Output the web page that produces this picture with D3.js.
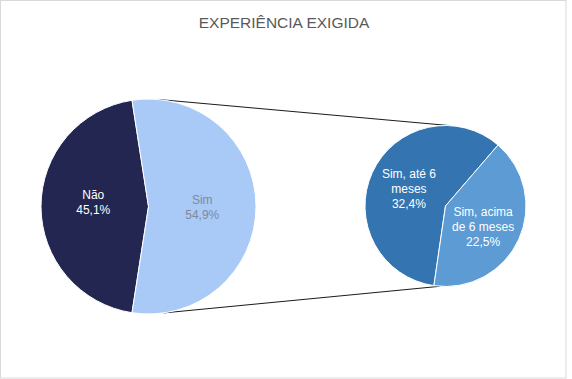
<!DOCTYPE html>
<html><head><meta charset="utf-8">
<script src="https://cdn.jsdelivr.net/npm/d3@7"></script>
<style>html,body{margin:0;padding:0;background:#fff;}svg{display:block;}</style>
</head><body>
<svg id="c" width="572" height="379"></svg>
<script>
const title = "EXPERIÊNCIA EXIGIDA";
const mainCategories = ["Não", "Sim"];
const mainValues = [45.1, 54.9];
const mainLabels = [["Não", "45,1%"], ["Sim", "54,9%"]];
const subCategories = ["Sim, até 6 meses", "Sim, acima de 6 meses"];
const subValues = [32.4, 22.5];
const subLabels = [["Sim, até 6", "meses", "32,4%"], ["Sim, acima", "de 6 meses", "22,5%"]];

const mainColors = ["#222650", "#A9C9F7"];
const mainText = ["#ffffff", "#7f8a99"];
const subColors = ["#3374B1", "#5C9BD3"];
const subText = ["#ffffff", "#ffffff"];
const mainLabelShift = [[-1.5, -4.5], [0, 0]];
const subLabelShift = [[0, -1.3], [1, 4]];

const svg = d3.select("#c");
const deg = Math.PI / 180;

svg.append("rect").attr("x", 0.5).attr("y", 0.5).attr("width", 565.5).attr("height", 377.5)
  .attr("fill", "#fff").attr("stroke", "#d9d9d9").attr("stroke-width", 1);

svg.append("text").attr("x", 284).attr("y", 28).attr("text-anchor", "middle")
  .attr("font-family", "Liberation Sans, Arial, sans-serif").attr("font-size", 15.5)
  .attr("fill", "#595959").text(title);

const main = {cx: 148.5, cy: 206.5, r: 107.5};
const sub = {cx: 445.5, cy: 206, r: 80.5};

// Connector lines
const mainTopA = 4.8 * deg, mainBotA = 172 * deg, subTopA = 3.2 * deg, subBotA = 184 * deg;
function pt(c, a) { return [c.cx + c.r * Math.sin(a), c.cy - c.r * Math.cos(a)]; }
[[mainTopA, subTopA], [mainBotA, subBotA]].forEach(([a1, a2]) => {
  const p1 = pt(main, a1), p2 = pt(sub, a2);
  svg.append("line").attr("x1", p1[0]).attr("y1", p1[1]).attr("x2", p2[0]).attr("y2", p2[1])
    .attr("stroke", "#000").attr("stroke-width", 0.9);
});

function drawPie(c, values, colors, textColors, labels, shifts, startDeg) {
  const pie = d3.pie().sort(null).startAngle(startDeg * deg).endAngle(startDeg * deg + 2 * Math.PI);
  const arcs = pie(values);
  const arc = d3.arc().innerRadius(0).outerRadius(c.r);
  const labelArc = d3.arc().innerRadius(c.r * 0.5).outerRadius(c.r * 0.5);
  const g = svg.append("g").attr("transform", `translate(${c.cx},${c.cy})`);
  g.selectAll("path").data(arcs).join("path")
    .attr("d", arc).attr("fill", (d, i) => colors[i])
    .attr("stroke", "#fff").attr("stroke-width", 1).attr("stroke-linejoin", "round");
  arcs.forEach((d, i) => {
    let [x, y] = labelArc.centroid(d);
    x += shifts[i][0]; y += shifts[i][1];
    const lines = labels[i];
    const lh = 15;
    const t = g.append("text").attr("text-anchor", "middle")
      .attr("font-family", "Liberation Sans, Arial, sans-serif").attr("font-size", 12)
      .attr("fill", textColors[i]);
    lines.forEach((ln, j) => {
      t.append("tspan").attr("x", x)
        .attr("y", y + (j - (lines.length - 1) / 2) * lh + 4.5).text(ln);
    });
  });
}

drawPie(main, mainValues, mainColors, mainText, mainLabels, mainLabelShift,
  270 - mainValues[0] / d3.sum(mainValues) * 180);
drawPie(sub, subValues, subColors, subText, subLabels, subLabelShift, 188.3);
</script>
</body></html>
